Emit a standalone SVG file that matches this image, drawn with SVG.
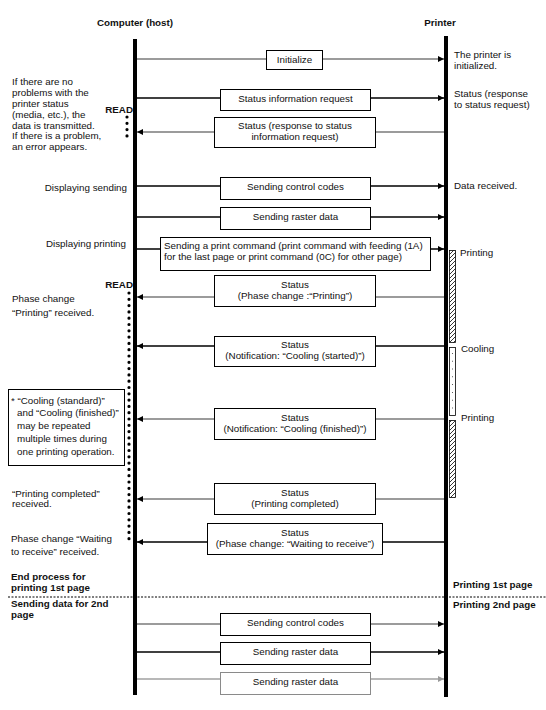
<svg xmlns="http://www.w3.org/2000/svg" width="546" height="710" viewBox="0 0 546 710">
<defs>
<style>
text{font-family:"Liberation Sans",Arial,sans-serif;font-size:9.8px;fill:#111}
.b{font-weight:bold}
.m{text-anchor:middle}
.e{text-anchor:end}
.box{fill:#fff;stroke:#000;stroke-width:1}
.gl{stroke:#7a7a7a;stroke-width:1.6;fill:none}
.bl{stroke:#000;stroke-width:1.3;fill:none}
.ll{stroke:#a0a0a0;stroke-width:1.6;fill:none}
.life{stroke:#000;stroke-width:4}
.dots{stroke:#000;stroke-width:3.2;stroke-linecap:round;stroke-dasharray:0 6.3;fill:none}
</style>
<marker id="ab" viewBox="0 0 6 6" refX="6" refY="3" markerWidth="6" markerHeight="6" markerUnits="userSpaceOnUse" orient="auto"><path d="M0,0L6,3L0,6z" fill="#000"/></marker>
<marker id="ag" viewBox="0 0 6 6" refX="6" refY="3" markerWidth="6" markerHeight="6" markerUnits="userSpaceOnUse" orient="auto"><path d="M0,0L6,3L0,6z" fill="#000"/></marker>
<marker id="al" viewBox="0 0 6 6" refX="6" refY="3" markerWidth="6" markerHeight="6" markerUnits="userSpaceOnUse" orient="auto"><path d="M0,0L6,3L0,6z" fill="#9a9a9a"/></marker>
<pattern id="hatch" width="4" height="4" patternUnits="userSpaceOnUse"><path d="M-1,1L1,-1M0,4L4,0M3,5L5,3" stroke="#000" stroke-width="0.8"/></pattern>
</defs>
<rect width="546" height="710" fill="#fff"/>

<g id="host">
<text x="135" y="26" class="b m">Computer (host)</text>
<line x1="135" y1="39" x2="135" y2="695" class="life"/>
</g>
<g id="printer">
<text x="440" y="26" class="b m">Printer</text>
<line x1="446" y1="36" x2="446" y2="697" class="life"/>
<rect x="449.5" y="250.5" width="6" height="92" fill="url(#hatch)" stroke="#000" stroke-width="0.8"/>
<rect x="449.5" y="347.5" width="6" height="68" fill="#fff" stroke="#000" stroke-width="0.8"/>
<line x1="452.5" y1="353" x2="452.5" y2="412" stroke="#000" stroke-width="0.8" stroke-dasharray="0.8 7"/>
<rect x="449.5" y="420.5" width="6" height="77" fill="url(#hatch)" stroke="#000" stroke-width="0.8"/>
<text x="460" y="256">Printing</text>
<text x="461" y="352">Cooling</text>
<text x="461" y="421">Printing</text>
</g>

<g id="connectors">
<line x1="137" y1="59" x2="444" y2="59" class="gl" marker-end="url(#ag)"/>
<line x1="137" y1="98" x2="444" y2="98" class="bl" marker-end="url(#ab)"/>
<line x1="444" y1="132" x2="137" y2="132" class="gl" marker-end="url(#ag)"/>
<line x1="137" y1="186" x2="444" y2="186" class="bl" marker-end="url(#ab)"/>
<line x1="137" y1="217" x2="444" y2="217" class="bl" marker-end="url(#ab)"/>
<line x1="137" y1="249" x2="444" y2="249" class="bl" marker-end="url(#ab)"/>
<line x1="444" y1="297" x2="137" y2="297" class="gl" marker-end="url(#ag)"/>
<line x1="444" y1="346" x2="137" y2="346" class="bl" marker-end="url(#ab)"/>
<line x1="444" y1="419" x2="137" y2="419" class="gl" marker-end="url(#ag)"/>
<line x1="444" y1="499" x2="137" y2="499" class="gl" marker-end="url(#ag)"/>
<line x1="444" y1="542" x2="137" y2="542" class="bl" marker-end="url(#ab)"/>
<line x1="137" y1="624" x2="444" y2="624" class="gl" marker-end="url(#ag)"/>
<line x1="137" y1="652" x2="444" y2="652" class="bl" marker-end="url(#ab)"/>
<line x1="137" y1="679" x2="444" y2="679" class="ll" marker-end="url(#al)"/>
</g>

<g id="read1">
<text x="133" y="113" class="b e">READ</text>
<line x1="127" y1="117" x2="127" y2="138" class="dots"/>
</g>
<g id="read2">
<text x="133" y="288" class="b e">READ</text>
<line x1="129" y1="293" x2="129" y2="544" class="dots"/>
</g>

<g id="n-init"><rect x="266.5" y="50.5" width="56" height="19" class="box"/><text x="294.5" y="63" class="m">Initialize</text></g>
<g id="n-sreq"><rect x="220.5" y="89.5" width="150" height="21" class="box"/><text x="295.5" y="102" class="m">Status information request</text></g>
<g id="n-sresp"><rect x="214.5" y="117.5" width="161" height="30" class="box"/><text x="295" y="129" class="m">Status (response to status</text><text x="295" y="140" class="m">information request)</text></g>
<g id="n-ctrl1"><rect x="220.5" y="177.5" width="150" height="22" class="box"/><text x="295.5" y="190" class="m">Sending control codes</text></g>
<g id="n-rast1"><rect x="220.5" y="207.5" width="150" height="22" class="box"/><text x="295.5" y="220" class="m">Sending raster data</text></g>
<g id="n-print"><rect x="160.5" y="237.5" width="270" height="33" class="box"/><text x="164" y="249">Sending a print command (print command with feeding (1A)</text><text x="164" y="260">for the last page or print command (0C) for other page)</text></g>
<g id="n-phase"><rect x="214.5" y="275.5" width="161" height="31" class="box"/><text x="295" y="288" class="m">Status</text><text x="295" y="299" class="m">(Phase change :“Printing”)</text></g>
<g id="n-cool1"><rect x="214.5" y="336.5" width="161" height="30" class="box"/><text x="295" y="348" class="m">Status</text><text x="295" y="359" class="m">(Notification: “Cooling (started)”)</text></g>
<g id="n-cool2"><rect x="214.5" y="408.5" width="161" height="31" class="box"/><text x="295" y="421" class="m">Status</text><text x="295" y="432" class="m">(Notification: “Cooling (finished)”)</text></g>
<g id="n-done"><rect x="214.5" y="483.5" width="161" height="31" class="box"/><text x="295" y="496" class="m">Status</text><text x="295" y="507" class="m">(Printing completed)</text></g>
<g id="n-wait"><rect x="207.5" y="523.5" width="175" height="31" class="box"/><text x="295" y="536" class="m">Status</text><text x="295" y="547" class="m">(Phase change: “Waiting to receive”)</text></g>
<g id="n-ctrl2"><rect x="220.5" y="613.5" width="150" height="22" class="box"/><text x="295.5" y="626" class="m">Sending control codes</text></g>
<g id="n-rast2"><rect x="220.5" y="642.5" width="150" height="22" class="box"/><text x="295.5" y="655" class="m">Sending raster data</text></g>
<g id="n-rast3"><rect x="220.5" y="672.5" width="150" height="22" class="box" style="stroke:#8a8a8a"/><text x="295.5" y="685" class="m">Sending raster data</text></g>

<g id="notes-left">
<text x="12" y="85">If there are no</text>
<text x="12" y="96">problems with the</text>
<text x="12" y="107">printer status</text>
<text x="12" y="118">(media, etc.), the</text>
<text x="12" y="129">data is transmitted.</text>
<text x="12" y="139">If there is a problem,</text>
<text x="12" y="150">an error appears.</text>
<text x="127" y="191" class="e">Displaying sending</text>
<text x="126" y="247" class="e">Displaying printing</text>
<text x="12" y="302">Phase change</text>
<text x="12" y="316">“Printing” received.</text>
<text x="12" y="497">“Printing completed”</text>
<text x="12" y="507">received.</text>
<text x="11" y="542">Phase change “Waiting</text>
<text x="11" y="555">to receive” received.</text>
</g>
<g id="note-box">
<rect x="8.5" y="389.5" width="116" height="76" fill="#fff" stroke="#000" stroke-width="1"/>
<text x="11" y="404">* “Cooling (standard)”</text>
<text x="17" y="416">and “Cooling (finished)”</text>
<text x="17" y="429">may be repeated</text>
<text x="17" y="442">multiple times during</text>
<text x="17" y="455">one printing operation.</text>
</g>
<g id="notes-right">
<text x="454" y="58">The printer is</text>
<text x="454" y="69">initialized.</text>
<text x="454" y="97">Status (response</text>
<text x="454" y="108">to status request)</text>
<text x="454" y="189">Data received.</text>
</g>
<g id="pages">
<text x="11" y="580" class="b">End process for</text>
<text x="11" y="591" class="b">printing 1st page</text>
<line x1="8" y1="597" x2="546" y2="597" stroke="#000" stroke-width="1" stroke-dasharray="2 1.5"/>
<text x="11" y="607" class="b">Sending data for 2nd</text>
<text x="11" y="618" class="b">page</text>
<text x="453" y="588" class="b">Printing 1st page</text>
<text x="453" y="608" class="b">Printing 2nd page</text>
</g>
</svg>
